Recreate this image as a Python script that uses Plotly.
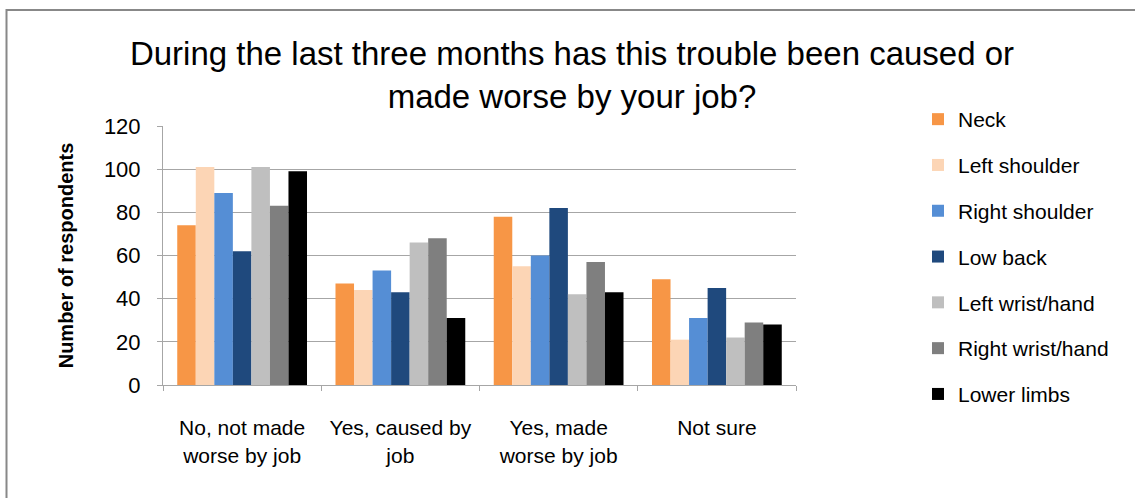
import plotly.graph_objects as go

# Response categories along the x axis
categories = [
    "No, not made<br>worse by job",
    "Yes, caused by<br>job",
    "Yes, made<br>worse by job",
    "Not sure",
]

# Body regions (one bar series each) and their counts per category
neck = [74, 47, 78, 49]
left_shoulder = [101, 44, 55, 21]
right_shoulder = [89, 53, 60, 31]
low_back = [62, 43, 82, 45]
left_wrist_hand = [101, 66, 42, 22]
right_wrist_hand = [83, 68, 57, 29]
lower_limbs = [99, 31, 43, 28]

series = [
    ("Neck", neck, "#F79646"),
    ("Left shoulder", left_shoulder, "#FCD5B5"),
    ("Right shoulder", right_shoulder, "#558ED5"),
    ("Low back", low_back, "#1F497D"),
    ("Left wrist/hand", left_wrist_hand, "#BFBFBF"),
    ("Right wrist/hand", right_wrist_hand, "#7F7F7F"),
    ("Lower limbs", lower_limbs, "#000000"),
]

FONT = "Liberation Sans, Arial, sans-serif"

fig = go.Figure()
for name, vals, color in series:
    fig.add_trace(go.Bar(
        x=categories, y=vals, name=name, legendgroup=name,
        marker=dict(color=color, line=dict(width=0)),
    ))

W, H = 1135, 498
L, R, T, B = 163, 339, 126, 113
pw, ph = W - L - R, H - T - B


def px_x(p):
    return (p - L) / pw


def px_y(p):
    return (H - B - p) / ph


fig.update_layout(
    width=W, height=H,
    margin=dict(l=L, r=R, t=T, b=B, autoexpand=False),
    paper_bgcolor="white", plot_bgcolor="white",
    font=dict(family=FONT, color="black", size=21),
    barmode="group", bargap=0.18, bargroupgap=0,
    title=dict(
        text="During the last three months has this trouble been caused or<br>made worse by your job?",
        font=dict(family=FONT, size=33, color="black"),
        x=572 / W, xref="container", xanchor="center",
        y=1 - 65 / H, yref="container", yanchor="top",
    ),
    legend=dict(
        x=px_x(918), y=px_y(99), xanchor="left", yanchor="top",
        font=dict(family=FONT, size=21, color="black"),
        traceorder="grouped", tracegroupgap=15.5,
        bgcolor="rgba(0,0,0,0)",
        maxheight=480,
    ),
    showlegend=True,
)

fig.update_yaxes(
    range=[0, 120], dtick=20, tick0=0,
    showgrid=True, gridcolor="#A6A6A6", gridwidth=1,
    showline=True, linecolor="#A6A6A6", linewidth=1,
    ticks="outside", ticklen=5, tickcolor="#A6A6A6",
    tickfont=dict(family=FONT, size=22, color="black"),
    ticklabelstandoff=12,
    zeroline=False,
    title=dict(text="<b>Number of respondents</b>",
               font=dict(family=FONT, size=20, color="black"),
               standoff=24),
)

fig.update_xaxes(
    showgrid=False,
    showline=True, linecolor="#A6A6A6", linewidth=1,
    ticks="outside", ticklen=5, tickcolor="#A6A6A6", tickson="boundaries",
    tickfont=dict(family=FONT, size=21, color="black"),
    ticklabelstandoff=24,
)

# Outer chart frame
fig.add_shape(
    type="rect", xref="paper", yref="paper",
    x0=px_x(6.5), x1=px_x(1145), y0=px_y(505), y1=px_y(10),
    line=dict(color="#888888", width=2), fillcolor="rgba(0,0,0,0)",
    layer="below",
)

fig.write_html("out.html")
